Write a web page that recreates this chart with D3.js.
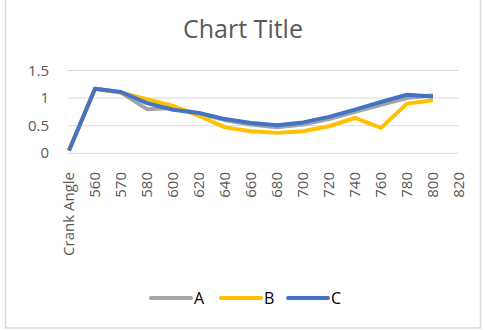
<!DOCTYPE html>
<html lang="en">
<head>
<meta charset="UTF-8">
<title>Chart Title</title>
<script src="https://d3js.org/d3.v7.min.js"></script>
<style>
  body { margin: 0; padding: 0; background: #fff; font-family: "Open Sans", "Noto Sans", sans-serif; }
  svg { display: block; }
</style>
</head>
<body>
<svg id="chart" width="486" height="330"></svg>
<script>
  // categories on the x axis
  const categories = ["Crank Angle", "560", "570", "580", "600", "620", "640", "660", "680", "700", "720", "740", "760", "780", "800", "820"];
  // series values (820 has no data)
  const seriesA = [0.05, 1.17, 1.10, 0.80, 0.82, 0.72, 0.60, 0.52, 0.47, 0.52, 0.62, 0.75, 0.88, 1.00, 1.05];
  const seriesB = [0.05, 1.17, 1.10, 0.98, 0.86, 0.68, 0.47, 0.40, 0.37, 0.40, 0.49, 0.64, 0.46, 0.90, 0.96];
  const seriesC = [0.05, 1.17, 1.11, 0.91, 0.79, 0.73, 0.62, 0.55, 0.51, 0.56, 0.66, 0.79, 0.93, 1.06, 1.03];
  const yTicks = [0, 0.5, 1, 1.5];
  const seriesNames = ["A", "B", "C"];

  const colors = { A: "#A5A5A5", B: "#FFC000", C: "#4472C4" };
  const svg = d3.select("#chart");

  // chart area border
  svg.append("rect")
      .attr("x", 5.5).attr("y", -5)
      .attr("width", 475).attr("height", 333)
      .attr("fill", "#fff")
      .attr("stroke", "#d9d9d9")
      .attr("stroke-width", 1.5);

  const x = d3.scalePoint().domain(categories).range([69, 459]);
  const y = d3.scaleLinear().domain([0, 1.5]).range([153.3, 70.5]);

  // title
  svg.append("text")
      .attr("x", 243).attr("y", 38)
      .attr("text-anchor", "middle")
      .attr("fill", "#595959")
      .style("font-size", "25px")
      .text("Chart Title");

  // gridlines
  svg.append("g").selectAll("line")
      .data(yTicks)
      .enter().append("line")
      .attr("x1", 68).attr("x2", 459)
      .attr("y1", d => y(d)).attr("y2", d => y(d))
      .attr("stroke", "#d9d9d9")
      .attr("stroke-width", 1);

  // y axis labels
  svg.append("g").selectAll("text")
      .data(yTicks)
      .enter().append("text")
      .attr("x", 49)
      .attr("y", d => y(d) + 5)
      .attr("text-anchor", "end")
      .attr("fill", "#595959")
      .style("font-size", "15px")
      .text(d => d);

  // x axis labels, rotated
  svg.append("g").selectAll("text")
      .data(categories)
      .enter().append("text")
      .attr("transform", d => `translate(${x(d) + 5},${172}) rotate(-90)`)
      .attr("text-anchor", "end")
      .attr("fill", "#595959")
      .style("font-size", "15px")
      .text(d => d);

  // lines
  const line = d3.line()
      .x((d, i) => x(categories[i]))
      .y(d => y(d));

  const data = { A: seriesA, B: seriesB, C: seriesC };
  seriesNames.forEach(name => {
      svg.append("path")
          .datum(data[name])
          .attr("d", line)
          .attr("fill", "none")
          .attr("stroke", colors[name])
          .attr("stroke-width", 4)
          .attr("stroke-linejoin", "round");
  });

  // legend
  const legendX = [151, 221, 288];
  const legend = svg.append("g");
  seriesNames.forEach((name, i) => {
      legend.append("line")
          .attr("x1", legendX[i]).attr("x2", legendX[i] + 40)
          .attr("y1", 298).attr("y2", 298)
          .attr("stroke", colors[name])
          .attr("stroke-width", 4)
          .attr("stroke-linecap", "round");
      legend.append("text")
          .attr("x", legendX[i] + 43).attr("y", 304)
          .attr("fill", "#000")
          .style("font-size", "16px")
          .text(name);
  });
</script>
</body>
</html>
